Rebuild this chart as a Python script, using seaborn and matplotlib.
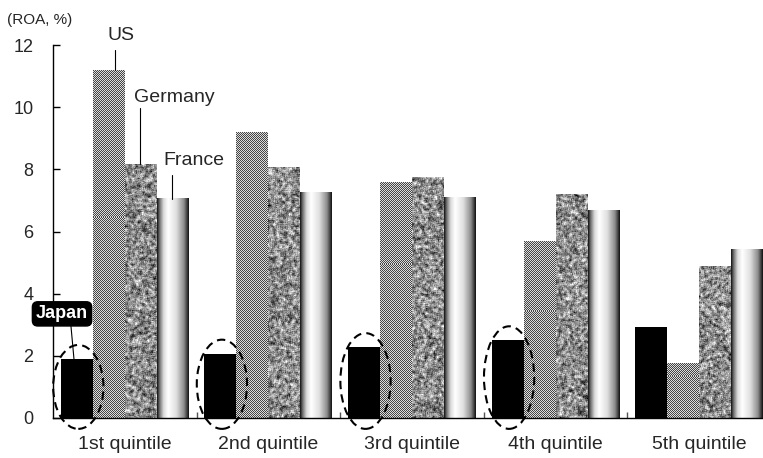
import numpy as np
import pandas as pd
import matplotlib
matplotlib.use('Agg')
import matplotlib.pyplot as plt
import seaborn as sns
from matplotlib.patches import Ellipse

sns.set_theme(style = 'white')
plt.rcParams['font.family'] = ['Liberation Sans', 'DejaVu Sans']

# data (ROA, %)
quintiles = ['1st quintile', '2nd quintile', '3rd quintile', '4th quintile', '5th quintile']
countries = ['Japan', 'US', 'Germany', 'France']
japan = [1.90, 2.07, 2.28, 2.50, 2.94]
us = [11.20, 9.20, 7.60, 5.70, 1.78]
germany = [8.17, 8.07, 7.75, 7.20, 4.89]
france = [7.05, 7.27, 7.10, 6.67, 5.41]


def make_textures(H, W):

    yy, xx = np.indices((H, W))
    checker = np.where((xx + yy) % 2 == 0, 0.27, 0.86)

    rng = np.random.default_rng(7)
    n = rng.random((H + 2, W + 2))
    blur = sum(n[i:i + H, j:j + W] for i in range(3) for j in range(3)) / 9
    fine = rng.random((H, W))
    granite = 0.7 * (blur - blur.mean()) / blur.std() + 0.3 * (fine - 0.5) / 0.29
    granite = granite / granite.std() * 0.15 + 0.55
    granite = np.clip(granite, 0, 1)

    t = np.linspace(0, 1, 64)
    cylinder = np.interp(t, [0, 0.08, 0.2, 0.35, 0.6, 0.85, 1.0],
                         [0.08, 0.45, 0.85, 1.0, 0.88, 0.55, 0.08])
    return checker, granite, cylinder


def main() -> None:

    fig = plt.figure(figsize = (7.63, 4.58), dpi = 100)
    ax_w, ax_h = 718, 373
    ax = fig.add_axes([53 / 763, 40 / 458, ax_w / 763, ax_h / 458])

    df = pd.DataFrame({
        'quintile': quintiles * 4,
        'country': np.repeat(countries, len(quintiles)),
        'roa': japan + us + germany + france,
    })

    sns.barplot(data = df, x = 'quintile', y = 'roa', hue = 'country', hue_order = countries,
                palette = ['black', '#888888', '#888888', '#888888'], width = 0.89,
                saturation = 1, linewidth = 0, legend = False, errorbar = None, ax = ax)

    checker, granite, cylinder = make_textures(ax_h, ax_w)
    full = (-0.5, 4.5, 0, 12)

    for bar in ax.containers[1]:
        im = ax.imshow(checker, cmap = 'gray', vmin = 0, vmax = 1, extent = full, aspect = 'auto',
                       interpolation = 'nearest', zorder = 1.5)
        im.set_clip_path(bar)
    for bar in ax.containers[2]:
        im = ax.imshow(granite, cmap = 'gray', vmin = 0, vmax = 1, extent = full, aspect = 'auto',
                       interpolation = 'nearest', zorder = 1.5)
        im.set_clip_path(bar)
    for bar in ax.containers[3]:
        x0 = bar.get_x()
        ax.imshow(cylinder[None, :], cmap = 'gray', vmin = 0, vmax = 1,
                  extent = (x0, x0 + bar.get_width(), 0, bar.get_height()),
                  aspect = 'auto', interpolation = 'bilinear', zorder = 1.5)

    # dashed ellipses around the Japan bars (first four quintiles)
    for bar in list(ax.containers[0])[:4]:
        h = bar.get_height()
        top, bottom = h + 0.45, -0.35
        cx = bar.get_x() + bar.get_width() / 2 + 0.01
        ax.add_patch(Ellipse((cx, (top + bottom) / 2), 0.35, top - bottom, fill = False,
                             edgecolor = 'black', linestyle = (0, (4, 2.5)), linewidth = 1.5,
                             clip_on = False, zorder = 4))

    # country labels with leader lines
    ax.text(-0.027, 12.32, 'US', ha = 'center', va = 'center', fontsize = 14)
    ax.plot([-0.068, -0.068], [11.84, us[0]], color = 'black', linewidth = 0.8, clip_on = False, zorder = 4)
    ax.text(0.343, 10.30, 'Germany', ha = 'center', va = 'center', fontsize = 14)
    ax.plot([0.106, 0.106], [9.97, germany[0]], color = 'black', linewidth = 0.8, zorder = 4)
    ax.text(0.478, 8.30, 'France', ha = 'center', va = 'center', fontsize = 14)
    ax.plot([0.329, 0.329], [7.82, france[0]], color = 'black', linewidth = 0.8, zorder = 4)

    ax.plot([-0.375, -0.354], [2.96, japan[0]], color = 'black', linewidth = 0.8, zorder = 4)
    ax.text(-0.437, 3.35, 'Japan', ha = 'center', va = 'center', fontsize = 13, fontweight = 'bold',
            color = 'white', zorder = 6, clip_on = False,
            bbox = dict(boxstyle = 'round,pad=0.2,rounding_size=0.3', facecolor = 'black', edgecolor = 'black'))

    fig.text(7 / 763, 1 - 20 / 458, '(ROA, %)', fontsize = 11, va = 'center', ha = 'left')

    ax.set_xlim(-0.5, 4.5)
    ax.set_ylim(0, 12)
    ax.set_yticks(range(0, 13, 2))
    ax.set_xticks(range(5))
    ax.set_xticklabels(quintiles)
    ax.set_xticks([0.5, 1.5, 2.5, 3.5], minor = True)
    ax.set_xlabel('')
    ax.set_ylabel('')

    ax.tick_params(axis = 'y', direction = 'in', length = 5, width = 1, color = 'black',
                   labelsize = 13, pad = 14, left = True)
    ax.tick_params(axis = 'x', which = 'major', length = 0, labelsize = 14, pad = 13)
    ax.tick_params(axis = 'x', which = 'minor', direction = 'in', length = 4, width = 1,
                   color = '#555555', bottom = True)

    for side in ['top', 'right']:
        ax.spines[side].set_visible(False)
    for side in ['left', 'bottom']:
        ax.spines[side].set_color('black')
        ax.spines[side].set_linewidth(1)
        ax.spines[side].set_zorder(5)

    fig.savefig('out.png', dpi = 100)


if __name__ == '__main__': main()
